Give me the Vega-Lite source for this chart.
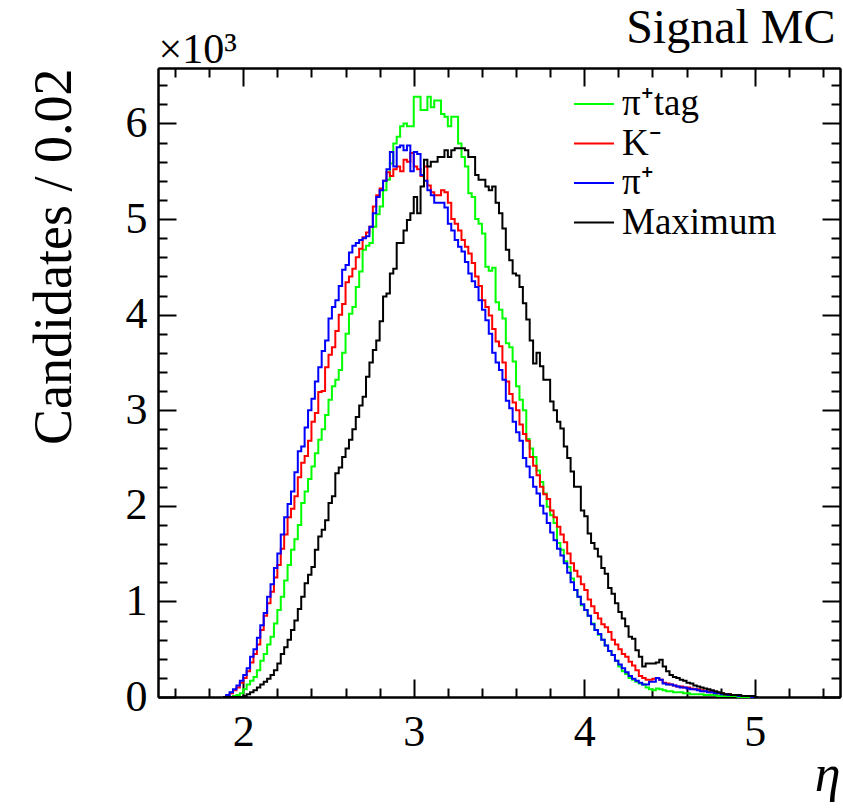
{
 "$schema": "https://vega.github.io/schema/vega-lite/v6.json",
 "width": 682, "height": 629,
 "autosize": {"type": "none"},
 "padding": {"left": 158, "top": 68, "right": 3, "bottom": 112},
 "background": "white",
 "config": {"font": "Liberation Serif", "view": {"stroke": null}, "axis": {"domainColor": "black", "domainWidth": 2, "tickColor": "black", "tickWidth": 2, "grid": false, "labelFont": "Liberation Serif", "titleFont": "Times New Roman", "labelColor": "black", "titleColor": "black"}, "legend": {"labelFont": "Liberation Serif"}},
 "data": {"values": [
{"c":"tag","x":1.88,"n":0},{"c":"tag","x":1.9,"n":0},{"c":"tag","x":1.92,"n":0},{"c":"tag","x":1.94,"n":0.01},{"c":"tag","x":1.96,"n":0.02},{"c":"tag","x":1.98,"n":0.04},{"c":"tag","x":2.0,"n":0.08},{"c":"tag","x":2.02,"n":0.13},{"c":"tag","x":2.04,"n":0.17},{"c":"tag","x":2.06,"n":0.21},{"c":"tag","x":2.08,"n":0.28},{"c":"tag","x":2.1,"n":0.38},{"c":"tag","x":2.12,"n":0.45},{"c":"tag","x":2.14,"n":0.55},{"c":"tag","x":2.16,"n":0.63},{"c":"tag","x":2.18,"n":0.77},{"c":"tag","x":2.2,"n":0.91},{"c":"tag","x":2.22,"n":1.05},{"c":"tag","x":2.24,"n":1.22},{"c":"tag","x":2.26,"n":1.38},{"c":"tag","x":2.28,"n":1.54},{"c":"tag","x":2.3,"n":1.65},{"c":"tag","x":2.32,"n":1.8},{"c":"tag","x":2.34,"n":2.03},{"c":"tag","x":2.36,"n":2.15},{"c":"tag","x":2.38,"n":2.28},{"c":"tag","x":2.4,"n":2.41},{"c":"tag","x":2.42,"n":2.55},{"c":"tag","x":2.44,"n":2.69},{"c":"tag","x":2.46,"n":2.8},{"c":"tag","x":2.48,"n":2.95},{"c":"tag","x":2.5,"n":3.11},{"c":"tag","x":2.52,"n":3.25},{"c":"tag","x":2.54,"n":3.32},{"c":"tag","x":2.56,"n":3.42},{"c":"tag","x":2.58,"n":3.6},{"c":"tag","x":2.6,"n":3.8},{"c":"tag","x":2.62,"n":4.01},{"c":"tag","x":2.64,"n":4.08},{"c":"tag","x":2.66,"n":4.29},{"c":"tag","x":2.68,"n":4.45},{"c":"tag","x":2.7,"n":4.68},{"c":"tag","x":2.72,"n":4.72},{"c":"tag","x":2.74,"n":4.75},{"c":"tag","x":2.76,"n":4.92},{"c":"tag","x":2.78,"n":5.05},{"c":"tag","x":2.8,"n":5.13},{"c":"tag","x":2.82,"n":5.3},{"c":"tag","x":2.84,"n":5.41},{"c":"tag","x":2.86,"n":5.58},{"c":"tag","x":2.88,"n":5.79},{"c":"tag","x":2.9,"n":5.86},{"c":"tag","x":2.92,"n":5.97},{"c":"tag","x":2.94,"n":6.0},{"c":"tag","x":2.96,"n":5.97},{"c":"tag","x":2.98,"n":5.97},{"c":"tag","x":3.0,"n":6.28},{"c":"tag","x":3.02,"n":6.28},{"c":"tag","x":3.04,"n":6.14},{"c":"tag","x":3.06,"n":6.14},{"c":"tag","x":3.08,"n":6.28},{"c":"tag","x":3.1,"n":6.17},{"c":"tag","x":3.12,"n":6.24},{"c":"tag","x":3.14,"n":6.24},{"c":"tag","x":3.16,"n":6.1},{"c":"tag","x":3.18,"n":6.07},{"c":"tag","x":3.2,"n":5.97},{"c":"tag","x":3.22,"n":6.07},{"c":"tag","x":3.24,"n":6.07},{"c":"tag","x":3.26,"n":5.79},{"c":"tag","x":3.28,"n":5.65},{"c":"tag","x":3.3,"n":5.55},{"c":"tag","x":3.32,"n":5.27},{"c":"tag","x":3.34,"n":5.23},{"c":"tag","x":3.36,"n":5.0},{"c":"tag","x":3.38,"n":4.95},{"c":"tag","x":3.4,"n":4.85},{"c":"tag","x":3.42,"n":4.5},{"c":"tag","x":3.44,"n":4.46},{"c":"tag","x":3.46,"n":4.49},{"c":"tag","x":3.48,"n":4.13},{"c":"tag","x":3.5,"n":4.05},{"c":"tag","x":3.52,"n":3.96},{"c":"tag","x":3.54,"n":3.7},{"c":"tag","x":3.56,"n":3.66},{"c":"tag","x":3.58,"n":3.51},{"c":"tag","x":3.6,"n":3.25},{"c":"tag","x":3.62,"n":3.11},{"c":"tag","x":3.64,"n":3.0},{"c":"tag","x":3.66,"n":2.7},{"c":"tag","x":3.68,"n":2.6},{"c":"tag","x":3.7,"n":2.51},{"c":"tag","x":3.72,"n":2.37},{"c":"tag","x":3.74,"n":2.25},{"c":"tag","x":3.76,"n":2.13},{"c":"tag","x":3.78,"n":1.99},{"c":"tag","x":3.8,"n":1.9},{"c":"tag","x":3.82,"n":1.82},{"c":"tag","x":3.84,"n":1.61},{"c":"tag","x":3.86,"n":1.54},{"c":"tag","x":3.88,"n":1.42},{"c":"tag","x":3.9,"n":1.36},{"c":"tag","x":3.92,"n":1.24},{"c":"tag","x":3.94,"n":1.12},{"c":"tag","x":3.96,"n":1.05},{"c":"tag","x":3.98,"n":0.96},{"c":"tag","x":4.0,"n":0.91},{"c":"tag","x":4.02,"n":0.85},{"c":"tag","x":4.04,"n":0.77},{"c":"tag","x":4.06,"n":0.7},{"c":"tag","x":4.08,"n":0.65},{"c":"tag","x":4.1,"n":0.6},{"c":"tag","x":4.12,"n":0.54},{"c":"tag","x":4.14,"n":0.48},{"c":"tag","x":4.16,"n":0.44},{"c":"tag","x":4.18,"n":0.38},{"c":"tag","x":4.2,"n":0.32},{"c":"tag","x":4.22,"n":0.27},{"c":"tag","x":4.24,"n":0.24},{"c":"tag","x":4.26,"n":0.2},{"c":"tag","x":4.28,"n":0.18},{"c":"tag","x":4.3,"n":0.16},{"c":"tag","x":4.32,"n":0.14},{"c":"tag","x":4.34,"n":0.13},{"c":"tag","x":4.36,"n":0.1},{"c":"tag","x":4.38,"n":0.08},{"c":"tag","x":4.4,"n":0.07},{"c":"tag","x":4.42,"n":0.09},{"c":"tag","x":4.44,"n":0.08},{"c":"tag","x":4.46,"n":0.07},{"c":"tag","x":4.48,"n":0.06},{"c":"tag","x":4.5,"n":0.06},{"c":"tag","x":4.52,"n":0.05},{"c":"tag","x":4.54,"n":0.05},{"c":"tag","x":4.56,"n":0.05},{"c":"tag","x":4.58,"n":0.04},{"c":"tag","x":4.6,"n":0.04},{"c":"tag","x":4.62,"n":0.03},{"c":"tag","x":4.64,"n":0.03},{"c":"tag","x":4.66,"n":0.03},{"c":"tag","x":4.68,"n":0.03},{"c":"tag","x":4.7,"n":0.02},{"c":"tag","x":4.72,"n":0.02},{"c":"tag","x":4.74,"n":0.02},{"c":"tag","x":4.76,"n":0.02},{"c":"tag","x":4.78,"n":0.01},{"c":"tag","x":4.8,"n":0.01},{"c":"tag","x":4.82,"n":0.01},{"c":"tag","x":4.84,"n":0.01},{"c":"tag","x":4.86,"n":0.01},{"c":"tag","x":4.88,"n":0.01},{"c":"tag","x":4.9,"n":0},{"c":"tag","x":5.02,"n":0},
{"c":"K","x":1.88,"n":0},{"c":"K","x":1.9,"n":0.01},{"c":"K","x":1.92,"n":0.04},{"c":"K","x":1.94,"n":0.07},{"c":"K","x":1.96,"n":0.1},{"c":"K","x":1.98,"n":0.15},{"c":"K","x":2.0,"n":0.2},{"c":"K","x":2.02,"n":0.27},{"c":"K","x":2.04,"n":0.36},{"c":"K","x":2.06,"n":0.45},{"c":"K","x":2.08,"n":0.55},{"c":"K","x":2.1,"n":0.7},{"c":"K","x":2.12,"n":0.85},{"c":"K","x":2.14,"n":0.98},{"c":"K","x":2.16,"n":1.1},{"c":"K","x":2.18,"n":1.25},{"c":"K","x":2.2,"n":1.38},{"c":"K","x":2.22,"n":1.55},{"c":"K","x":2.24,"n":1.7},{"c":"K","x":2.26,"n":1.88},{"c":"K","x":2.28,"n":1.97},{"c":"K","x":2.3,"n":2.1},{"c":"K","x":2.32,"n":2.3},{"c":"K","x":2.34,"n":2.45},{"c":"K","x":2.36,"n":2.52},{"c":"K","x":2.38,"n":2.68},{"c":"K","x":2.4,"n":2.88},{"c":"K","x":2.42,"n":2.97},{"c":"K","x":2.44,"n":3.19},{"c":"K","x":2.46,"n":3.2},{"c":"K","x":2.48,"n":3.45},{"c":"K","x":2.5,"n":3.58},{"c":"K","x":2.52,"n":3.66},{"c":"K","x":2.54,"n":3.83},{"c":"K","x":2.56,"n":4.0},{"c":"K","x":2.58,"n":4.11},{"c":"K","x":2.6,"n":4.34},{"c":"K","x":2.62,"n":4.4},{"c":"K","x":2.64,"n":4.48},{"c":"K","x":2.66,"n":4.6},{"c":"K","x":2.68,"n":4.69},{"c":"K","x":2.7,"n":4.81},{"c":"K","x":2.72,"n":4.86},{"c":"K","x":2.74,"n":4.92},{"c":"K","x":2.76,"n":5.13},{"c":"K","x":2.78,"n":5.25},{"c":"K","x":2.8,"n":5.32},{"c":"K","x":2.82,"n":5.4},{"c":"K","x":2.84,"n":5.49},{"c":"K","x":2.86,"n":5.45},{"c":"K","x":2.88,"n":5.52},{"c":"K","x":2.9,"n":5.55},{"c":"K","x":2.92,"n":5.5},{"c":"K","x":2.94,"n":5.62},{"c":"K","x":2.96,"n":5.6},{"c":"K","x":2.98,"n":5.69},{"c":"K","x":3.0,"n":5.55},{"c":"K","x":3.02,"n":5.52},{"c":"K","x":3.04,"n":5.45},{"c":"K","x":3.06,"n":5.55},{"c":"K","x":3.08,"n":5.35},{"c":"K","x":3.1,"n":5.28},{"c":"K","x":3.12,"n":5.25},{"c":"K","x":3.14,"n":5.25},{"c":"K","x":3.16,"n":5.3},{"c":"K","x":3.18,"n":5.28},{"c":"K","x":3.2,"n":5.17},{"c":"K","x":3.22,"n":5.0},{"c":"K","x":3.24,"n":4.95},{"c":"K","x":3.26,"n":4.88},{"c":"K","x":3.28,"n":4.78},{"c":"K","x":3.3,"n":4.71},{"c":"K","x":3.32,"n":4.64},{"c":"K","x":3.34,"n":4.54},{"c":"K","x":3.36,"n":4.4},{"c":"K","x":3.38,"n":4.3},{"c":"K","x":3.4,"n":4.15},{"c":"K","x":3.42,"n":4.08},{"c":"K","x":3.44,"n":3.99},{"c":"K","x":3.46,"n":3.85},{"c":"K","x":3.48,"n":3.72},{"c":"K","x":3.5,"n":3.67},{"c":"K","x":3.52,"n":3.5},{"c":"K","x":3.54,"n":3.3},{"c":"K","x":3.56,"n":3.17},{"c":"K","x":3.58,"n":3.08},{"c":"K","x":3.6,"n":3.0},{"c":"K","x":3.62,"n":2.85},{"c":"K","x":3.64,"n":2.75},{"c":"K","x":3.66,"n":2.68},{"c":"K","x":3.68,"n":2.51},{"c":"K","x":3.7,"n":2.42},{"c":"K","x":3.72,"n":2.32},{"c":"K","x":3.74,"n":2.2},{"c":"K","x":3.76,"n":2.12},{"c":"K","x":3.78,"n":2.07},{"c":"K","x":3.8,"n":1.95},{"c":"K","x":3.82,"n":1.88},{"c":"K","x":3.84,"n":1.78},{"c":"K","x":3.86,"n":1.7},{"c":"K","x":3.88,"n":1.62},{"c":"K","x":3.9,"n":1.5},{"c":"K","x":3.92,"n":1.4},{"c":"K","x":3.94,"n":1.32},{"c":"K","x":3.96,"n":1.26},{"c":"K","x":3.98,"n":1.18},{"c":"K","x":4.0,"n":1.12},{"c":"K","x":4.02,"n":1.02},{"c":"K","x":4.04,"n":0.95},{"c":"K","x":4.06,"n":0.88},{"c":"K","x":4.08,"n":0.82},{"c":"K","x":4.1,"n":0.76},{"c":"K","x":4.12,"n":0.73},{"c":"K","x":4.14,"n":0.68},{"c":"K","x":4.16,"n":0.6},{"c":"K","x":4.18,"n":0.55},{"c":"K","x":4.2,"n":0.5},{"c":"K","x":4.22,"n":0.45},{"c":"K","x":4.24,"n":0.42},{"c":"K","x":4.26,"n":0.37},{"c":"K","x":4.28,"n":0.33},{"c":"K","x":4.3,"n":0.28},{"c":"K","x":4.32,"n":0.22},{"c":"K","x":4.34,"n":0.2},{"c":"K","x":4.36,"n":0.18},{"c":"K","x":4.38,"n":0.18},{"c":"K","x":4.4,"n":0.19},{"c":"K","x":4.42,"n":0.2},{"c":"K","x":4.44,"n":0.18},{"c":"K","x":4.46,"n":0.15},{"c":"K","x":4.48,"n":0.14},{"c":"K","x":4.5,"n":0.13},{"c":"K","x":4.52,"n":0.12},{"c":"K","x":4.54,"n":0.11},{"c":"K","x":4.56,"n":0.11},{"c":"K","x":4.58,"n":0.1},{"c":"K","x":4.6,"n":0.1},{"c":"K","x":4.62,"n":0.09},{"c":"K","x":4.64,"n":0.08},{"c":"K","x":4.66,"n":0.08},{"c":"K","x":4.68,"n":0.07},{"c":"K","x":4.7,"n":0.06},{"c":"K","x":4.72,"n":0.06},{"c":"K","x":4.74,"n":0.05},{"c":"K","x":4.76,"n":0.05},{"c":"K","x":4.78,"n":0.04},{"c":"K","x":4.8,"n":0.04},{"c":"K","x":4.82,"n":0.03},{"c":"K","x":4.84,"n":0.03},{"c":"K","x":4.86,"n":0.02},{"c":"K","x":4.88,"n":0.02},{"c":"K","x":4.9,"n":0.02},{"c":"K","x":4.92,"n":0.01},{"c":"K","x":4.94,"n":0.01},{"c":"K","x":4.96,"n":0.01},{"c":"K","x":4.98,"n":0},{"c":"K","x":5.02,"n":0},
{"c":"pi","x":1.88,"n":0},{"c":"pi","x":1.9,"n":0.02},{"c":"pi","x":1.92,"n":0.05},{"c":"pi","x":1.94,"n":0.08},{"c":"pi","x":1.96,"n":0.12},{"c":"pi","x":1.98,"n":0.17},{"c":"pi","x":2.0,"n":0.23},{"c":"pi","x":2.02,"n":0.3},{"c":"pi","x":2.04,"n":0.42},{"c":"pi","x":2.06,"n":0.5},{"c":"pi","x":2.08,"n":0.62},{"c":"pi","x":2.1,"n":0.75},{"c":"pi","x":2.12,"n":0.88},{"c":"pi","x":2.14,"n":1.05},{"c":"pi","x":2.16,"n":1.18},{"c":"pi","x":2.18,"n":1.35},{"c":"pi","x":2.2,"n":1.5},{"c":"pi","x":2.22,"n":1.7},{"c":"pi","x":2.24,"n":1.88},{"c":"pi","x":2.26,"n":2.02},{"c":"pi","x":2.28,"n":2.15},{"c":"pi","x":2.3,"n":2.35},{"c":"pi","x":2.32,"n":2.57},{"c":"pi","x":2.34,"n":2.62},{"c":"pi","x":2.36,"n":2.82},{"c":"pi","x":2.38,"n":3.0},{"c":"pi","x":2.4,"n":3.12},{"c":"pi","x":2.42,"n":3.3},{"c":"pi","x":2.44,"n":3.45},{"c":"pi","x":2.46,"n":3.62},{"c":"pi","x":2.48,"n":3.73},{"c":"pi","x":2.5,"n":3.96},{"c":"pi","x":2.52,"n":4.08},{"c":"pi","x":2.54,"n":4.15},{"c":"pi","x":2.56,"n":4.3},{"c":"pi","x":2.58,"n":4.47},{"c":"pi","x":2.6,"n":4.52},{"c":"pi","x":2.62,"n":4.65},{"c":"pi","x":2.64,"n":4.72},{"c":"pi","x":2.66,"n":4.75},{"c":"pi","x":2.68,"n":4.78},{"c":"pi","x":2.7,"n":4.8},{"c":"pi","x":2.72,"n":4.82},{"c":"pi","x":2.74,"n":4.92},{"c":"pi","x":2.76,"n":5.06},{"c":"pi","x":2.78,"n":5.23},{"c":"pi","x":2.8,"n":5.3},{"c":"pi","x":2.82,"n":5.4},{"c":"pi","x":2.84,"n":5.52},{"c":"pi","x":2.86,"n":5.7},{"c":"pi","x":2.88,"n":5.55},{"c":"pi","x":2.9,"n":5.75},{"c":"pi","x":2.92,"n":5.77},{"c":"pi","x":2.94,"n":5.72},{"c":"pi","x":2.96,"n":5.77},{"c":"pi","x":2.98,"n":5.5},{"c":"pi","x":3.0,"n":5.7},{"c":"pi","x":3.02,"n":5.68},{"c":"pi","x":3.04,"n":5.46},{"c":"pi","x":3.06,"n":5.4},{"c":"pi","x":3.08,"n":5.3},{"c":"pi","x":3.1,"n":5.25},{"c":"pi","x":3.12,"n":5.17},{"c":"pi","x":3.14,"n":5.17},{"c":"pi","x":3.16,"n":5.17},{"c":"pi","x":3.18,"n":5.12},{"c":"pi","x":3.2,"n":4.95},{"c":"pi","x":3.22,"n":4.88},{"c":"pi","x":3.24,"n":4.78},{"c":"pi","x":3.26,"n":4.71},{"c":"pi","x":3.28,"n":4.66},{"c":"pi","x":3.3,"n":4.55},{"c":"pi","x":3.32,"n":4.43},{"c":"pi","x":3.34,"n":4.35},{"c":"pi","x":3.36,"n":4.29},{"c":"pi","x":3.38,"n":4.15},{"c":"pi","x":3.4,"n":4.05},{"c":"pi","x":3.42,"n":3.94},{"c":"pi","x":3.44,"n":3.8},{"c":"pi","x":3.46,"n":3.6},{"c":"pi","x":3.48,"n":3.5},{"c":"pi","x":3.5,"n":3.42},{"c":"pi","x":3.52,"n":3.32},{"c":"pi","x":3.54,"n":3.1},{"c":"pi","x":3.56,"n":3.02},{"c":"pi","x":3.58,"n":2.88},{"c":"pi","x":3.6,"n":2.77},{"c":"pi","x":3.62,"n":2.68},{"c":"pi","x":3.64,"n":2.5},{"c":"pi","x":3.66,"n":2.41},{"c":"pi","x":3.68,"n":2.3},{"c":"pi","x":3.7,"n":2.2},{"c":"pi","x":3.72,"n":2.13},{"c":"pi","x":3.74,"n":2.0},{"c":"pi","x":3.76,"n":1.92},{"c":"pi","x":3.78,"n":1.82},{"c":"pi","x":3.8,"n":1.72},{"c":"pi","x":3.82,"n":1.64},{"c":"pi","x":3.84,"n":1.55},{"c":"pi","x":3.86,"n":1.48},{"c":"pi","x":3.88,"n":1.4},{"c":"pi","x":3.9,"n":1.3},{"c":"pi","x":3.92,"n":1.2},{"c":"pi","x":3.94,"n":1.12},{"c":"pi","x":3.96,"n":1.05},{"c":"pi","x":3.98,"n":0.97},{"c":"pi","x":4.0,"n":0.91},{"c":"pi","x":4.02,"n":0.85},{"c":"pi","x":4.04,"n":0.76},{"c":"pi","x":4.06,"n":0.7},{"c":"pi","x":4.08,"n":0.66},{"c":"pi","x":4.1,"n":0.6},{"c":"pi","x":4.12,"n":0.54},{"c":"pi","x":4.14,"n":0.48},{"c":"pi","x":4.16,"n":0.44},{"c":"pi","x":4.18,"n":0.38},{"c":"pi","x":4.2,"n":0.34},{"c":"pi","x":4.22,"n":0.3},{"c":"pi","x":4.24,"n":0.26},{"c":"pi","x":4.26,"n":0.22},{"c":"pi","x":4.28,"n":0.19},{"c":"pi","x":4.3,"n":0.17},{"c":"pi","x":4.32,"n":0.15},{"c":"pi","x":4.34,"n":0.13},{"c":"pi","x":4.36,"n":0.13},{"c":"pi","x":4.38,"n":0.16},{"c":"pi","x":4.4,"n":0.16},{"c":"pi","x":4.42,"n":0.2},{"c":"pi","x":4.44,"n":0.18},{"c":"pi","x":4.46,"n":0.14},{"c":"pi","x":4.48,"n":0.13},{"c":"pi","x":4.5,"n":0.13},{"c":"pi","x":4.52,"n":0.12},{"c":"pi","x":4.54,"n":0.11},{"c":"pi","x":4.56,"n":0.1},{"c":"pi","x":4.58,"n":0.1},{"c":"pi","x":4.6,"n":0.09},{"c":"pi","x":4.62,"n":0.08},{"c":"pi","x":4.64,"n":0.08},{"c":"pi","x":4.66,"n":0.07},{"c":"pi","x":4.68,"n":0.06},{"c":"pi","x":4.7,"n":0.06},{"c":"pi","x":4.72,"n":0.05},{"c":"pi","x":4.74,"n":0.05},{"c":"pi","x":4.76,"n":0.04},{"c":"pi","x":4.78,"n":0.04},{"c":"pi","x":4.8,"n":0.03},{"c":"pi","x":4.82,"n":0.03},{"c":"pi","x":4.84,"n":0.02},{"c":"pi","x":4.86,"n":0.02},{"c":"pi","x":4.88,"n":0.02},{"c":"pi","x":4.9,"n":0.01},{"c":"pi","x":4.92,"n":0.01},{"c":"pi","x":4.94,"n":0.01},{"c":"pi","x":4.96,"n":0.01},{"c":"pi","x":4.98,"n":0},{"c":"pi","x":5.02,"n":0},
{"c":"max","x":1.88,"n":0},{"c":"max","x":1.98,"n":0},{"c":"max","x":2.0,"n":0.01},{"c":"max","x":2.02,"n":0.03},{"c":"max","x":2.04,"n":0.05},{"c":"max","x":2.06,"n":0.07},{"c":"max","x":2.08,"n":0.1},{"c":"max","x":2.1,"n":0.13},{"c":"max","x":2.12,"n":0.16},{"c":"max","x":2.14,"n":0.19},{"c":"max","x":2.16,"n":0.23},{"c":"max","x":2.18,"n":0.28},{"c":"max","x":2.2,"n":0.35},{"c":"max","x":2.22,"n":0.45},{"c":"max","x":2.24,"n":0.52},{"c":"max","x":2.26,"n":0.6},{"c":"max","x":2.28,"n":0.7},{"c":"max","x":2.3,"n":0.8},{"c":"max","x":2.32,"n":0.92},{"c":"max","x":2.34,"n":1.05},{"c":"max","x":2.36,"n":1.19},{"c":"max","x":2.38,"n":1.28},{"c":"max","x":2.4,"n":1.36},{"c":"max","x":2.42,"n":1.54},{"c":"max","x":2.44,"n":1.68},{"c":"max","x":2.46,"n":1.75},{"c":"max","x":2.48,"n":1.85},{"c":"max","x":2.5,"n":2.03},{"c":"max","x":2.52,"n":2.1},{"c":"max","x":2.54,"n":2.34},{"c":"max","x":2.56,"n":2.4},{"c":"max","x":2.58,"n":2.51},{"c":"max","x":2.6,"n":2.6},{"c":"max","x":2.62,"n":2.69},{"c":"max","x":2.64,"n":2.8},{"c":"max","x":2.66,"n":2.93},{"c":"max","x":2.68,"n":3.05},{"c":"max","x":2.7,"n":3.14},{"c":"max","x":2.72,"n":3.35},{"c":"max","x":2.74,"n":3.5},{"c":"max","x":2.76,"n":3.63},{"c":"max","x":2.78,"n":3.73},{"c":"max","x":2.8,"n":3.93},{"c":"max","x":2.82,"n":4.19},{"c":"max","x":2.84,"n":4.22},{"c":"max","x":2.86,"n":4.43},{"c":"max","x":2.88,"n":4.48},{"c":"max","x":2.9,"n":4.75},{"c":"max","x":2.92,"n":4.75},{"c":"max","x":2.94,"n":4.88},{"c":"max","x":2.96,"n":4.99},{"c":"max","x":2.98,"n":5.06},{"c":"max","x":3.0,"n":5.23},{"c":"max","x":3.02,"n":5.06},{"c":"max","x":3.04,"n":5.34},{"c":"max","x":3.06,"n":5.62},{"c":"max","x":3.08,"n":5.55},{"c":"max","x":3.1,"n":5.6},{"c":"max","x":3.12,"n":5.6},{"c":"max","x":3.14,"n":5.65},{"c":"max","x":3.16,"n":5.65},{"c":"max","x":3.18,"n":5.72},{"c":"max","x":3.2,"n":5.65},{"c":"max","x":3.22,"n":5.72},{"c":"max","x":3.24,"n":5.74},{"c":"max","x":3.26,"n":5.74},{"c":"max","x":3.28,"n":5.74},{"c":"max","x":3.3,"n":5.72},{"c":"max","x":3.32,"n":5.65},{"c":"max","x":3.34,"n":5.65},{"c":"max","x":3.36,"n":5.46},{"c":"max","x":3.38,"n":5.41},{"c":"max","x":3.4,"n":5.41},{"c":"max","x":3.42,"n":5.34},{"c":"max","x":3.44,"n":5.3},{"c":"max","x":3.46,"n":5.34},{"c":"max","x":3.48,"n":5.17},{"c":"max","x":3.5,"n":5.06},{"c":"max","x":3.52,"n":4.9},{"c":"max","x":3.54,"n":4.68},{"c":"max","x":3.56,"n":4.57},{"c":"max","x":3.58,"n":4.43},{"c":"max","x":3.6,"n":4.41},{"c":"max","x":3.62,"n":4.29},{"c":"max","x":3.64,"n":4.12},{"c":"max","x":3.66,"n":3.95},{"c":"max","x":3.68,"n":3.73},{"c":"max","x":3.7,"n":3.49},{"c":"max","x":3.72,"n":3.6},{"c":"max","x":3.74,"n":3.46},{"c":"max","x":3.76,"n":3.32},{"c":"max","x":3.78,"n":3.32},{"c":"max","x":3.8,"n":3.09},{"c":"max","x":3.82,"n":3.0},{"c":"max","x":3.84,"n":2.88},{"c":"max","x":3.86,"n":2.81},{"c":"max","x":3.88,"n":2.62},{"c":"max","x":3.9,"n":2.5},{"c":"max","x":3.92,"n":2.36},{"c":"max","x":3.94,"n":2.2},{"c":"max","x":3.96,"n":2.2},{"c":"max","x":3.98,"n":1.95},{"c":"max","x":4.0,"n":1.89},{"c":"max","x":4.02,"n":1.71},{"c":"max","x":4.04,"n":1.61},{"c":"max","x":4.06,"n":1.55},{"c":"max","x":4.08,"n":1.47},{"c":"max","x":4.1,"n":1.35},{"c":"max","x":4.12,"n":1.29},{"c":"max","x":4.14,"n":1.14},{"c":"max","x":4.16,"n":1.08},{"c":"max","x":4.18,"n":0.98},{"c":"max","x":4.2,"n":0.89},{"c":"max","x":4.22,"n":0.82},{"c":"max","x":4.24,"n":0.74},{"c":"max","x":4.26,"n":0.63},{"c":"max","x":4.28,"n":0.61},{"c":"max","x":4.3,"n":0.49},{"c":"max","x":4.32,"n":0.42},{"c":"max","x":4.34,"n":0.32},{"c":"max","x":4.36,"n":0.35},{"c":"max","x":4.38,"n":0.35},{"c":"max","x":4.4,"n":0.35},{"c":"max","x":4.42,"n":0.36},{"c":"max","x":4.44,"n":0.39},{"c":"max","x":4.46,"n":0.32},{"c":"max","x":4.48,"n":0.27},{"c":"max","x":4.5,"n":0.23},{"c":"max","x":4.52,"n":0.21},{"c":"max","x":4.54,"n":0.2},{"c":"max","x":4.56,"n":0.18},{"c":"max","x":4.58,"n":0.17},{"c":"max","x":4.6,"n":0.15},{"c":"max","x":4.62,"n":0.14},{"c":"max","x":4.64,"n":0.12},{"c":"max","x":4.66,"n":0.11},{"c":"max","x":4.68,"n":0.1},{"c":"max","x":4.7,"n":0.09},{"c":"max","x":4.72,"n":0.08},{"c":"max","x":4.74,"n":0.07},{"c":"max","x":4.76,"n":0.06},{"c":"max","x":4.78,"n":0.05},{"c":"max","x":4.8,"n":0.04},{"c":"max","x":4.82,"n":0.03},{"c":"max","x":4.84,"n":0.03},{"c":"max","x":4.86,"n":0.02},{"c":"max","x":4.88,"n":0.02},{"c":"max","x":4.9,"n":0.02},{"c":"max","x":4.92,"n":0.01},{"c":"max","x":4.94,"n":0.01},{"c":"max","x":4.96,"n":0.01},{"c":"max","x":4.98,"n":0.01},{"c":"max","x":5.0,"n":0},{"c":"max","x":5.02,"n":0}
 ]},
 "layer": [
  {
   "mark": {"type": "line", "interpolate": "step-after", "strokeWidth": 2},
   "encoding": {
    "x": {"field": "x", "type": "quantitative", "scale": {"domain": [1.5, 5.5], "nice": false, "zero": false},
          "axis": {"orient": "bottom", "values": [2, 3, 4, 5], "format": "d", "tickSize": -18, "labelFont": "Liberation Serif", "labelFontSize": 44, "labelPadding": 31, "labelFlush": false,
                   "title": "η", "titleFont": "Times New Roman", "titleFontWeight": "normal", "titleFontSize": 52, "titleFontStyle": "italic", "titleAnchor": "end", "titleAlign": "right", "titleBaseline": "alphabetic", "titleX": 682, "titleY": 93}},
    "y": {"field": "n", "type": "quantitative", "scale": {"domain": [0, 6.58], "nice": false},
          "axis": {"orient": "left", "values": [0, 1, 2, 3, 4, 5, 6], "format": "d", "tickSize": -18, "labelFont": "Liberation Serif", "labelFontSize": 44, "labelPadding": 29, "labelFlush": false,
                   "title": "Candidates / 0.02", "titleFont": "Times New Roman", "titleFontWeight": "normal", "titleFontSize": 54, "titleAngle": -90, "titleAnchor": "end", "titleAlign": "right", "titleBaseline": "alphabetic", "titleX": -88, "titleY": 0}},
    "color": {"field": "c", "type": "nominal", "sort": ["tag", "K", "pi", "max"],
              "scale": {"domain": ["tag", "K", "pi", "max"], "range": ["#00ff00", "#ff0000", "#0000ff", "#000000"]},
              "legend": {"orient": "none", "legendX": 415, "legendY": 15, "title": null, "symbolType": "stroke", "symbolStrokeWidth": 2, "symbolSize": 1600,
                         "labelFont": "Liberation Serif", "labelFontSize": 37, "labelColor": "black", "labelOffset": 7, "rowPadding": 0.5, "padding": 0, "labelLimit": 300,
                         "labelExpr": "datum.value == 'tag' ? 'π⁺tag' : datum.value == 'K' ? 'K⁻' : datum.value == 'pi' ? 'π⁺' : 'Maximum'"}}
   }
  },
  {
   "mark": {"type": "line", "interpolate": "step-after", "opacity": 0},
   "encoding": {
    "x": {"field": "x", "type": "quantitative", "axis": {"orient": "bottom", "values": [1.6, 1.8, 2.2, 2.4, 2.6, 2.8, 3.2, 3.4, 3.6, 3.8, 4.2, 4.4, 4.6, 4.8, 5.2, 5.4], "tickSize": -9, "labels": false, "title": null}},
    "y": {"field": "n", "type": "quantitative", "axis": {"orient": "left", "values": [0.2, 0.4, 0.6, 0.8, 1.2, 1.4, 1.6, 1.8, 2.2, 2.4, 2.6, 2.8, 3.2, 3.4, 3.6, 3.8, 4.2, 4.4, 4.6, 4.8, 5.2, 5.4, 5.6, 5.8, 6.2, 6.4], "tickSize": -9, "labels": false, "title": null}},
    "detail": {"field": "c"}
   }
  },
  {
   "mark": {"type": "line", "interpolate": "step-after", "opacity": 0},
   "encoding": {
    "x": {"field": "x", "type": "quantitative", "axis": {"orient": "top", "values": [2, 3, 4, 5], "tickSize": -18, "labels": false,
          "title": "×10³", "titleFont": "Times New Roman", "titleFontWeight": "normal", "titleFontSize": 42, "titleAnchor": "start", "titleAlign": "left", "titleBaseline": "alphabetic", "titleX": 0, "titleY": -6}},
    "y": {"field": "n", "type": "quantitative", "axis": {"orient": "right", "values": [0, 1, 2, 3, 4, 5, 6], "tickSize": -18, "labels": false, "title": null}},
    "detail": {"field": "c"}
   }
  },
  {
   "mark": {"type": "line", "interpolate": "step-after", "opacity": 0},
   "encoding": {
    "x": {"field": "x", "type": "quantitative", "axis": {"orient": "top", "values": [1.6, 1.8, 2.2, 2.4, 2.6, 2.8, 3.2, 3.4, 3.6, 3.8, 4.2, 4.4, 4.6, 4.8, 5.2, 5.4], "tickSize": -9, "labels": false,
          "title": "Signal MC", "titleFont": "Times New Roman", "titleFontWeight": "normal", "titleFontSize": 48, "titleAnchor": "end", "titleAlign": "right", "titleBaseline": "alphabetic", "titleX": 677, "titleY": -26}},
    "y": {"field": "n", "type": "quantitative", "axis": {"orient": "right", "values": [0.2, 0.4, 0.6, 0.8, 1.2, 1.4, 1.6, 1.8, 2.2, 2.4, 2.6, 2.8, 3.2, 3.4, 3.6, 3.8, 4.2, 4.4, 4.6, 4.8, 5.2, 5.4, 5.6, 5.8, 6.2, 6.4], "tickSize": -9, "labels": false, "title": null}},
    "detail": {"field": "c"}
   }
  }
 ],
 "resolve": {"axis": {"x": "independent", "y": "independent"}}
}
